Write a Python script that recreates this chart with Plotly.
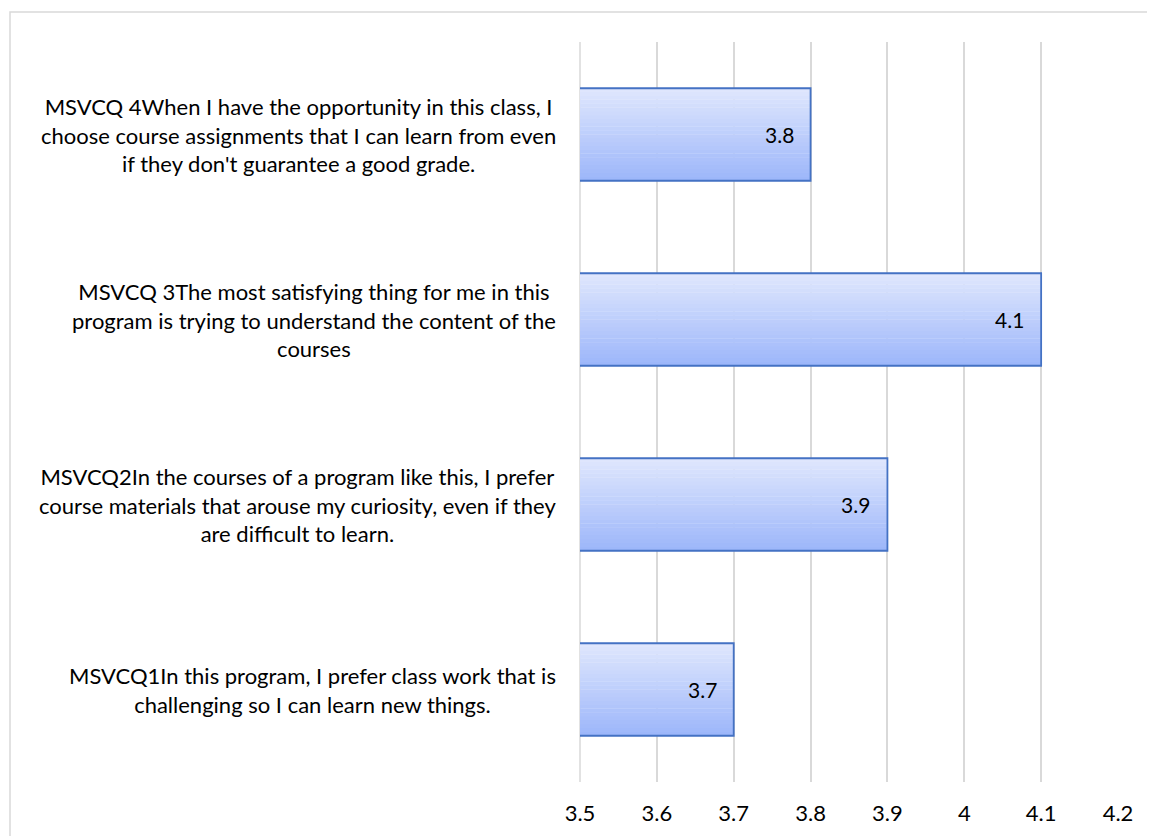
import plotly.graph_objects as go

categories = [
    "MSVCQ1In this program, I prefer class work that is<br>challenging so I can learn new things.",
    "MSVCQ2In the courses of a program like this, I prefer<br>course materials that arouse my curiosity, even if they<br>are difficult to learn.",
    "MSVCQ 3The most satisfying thing for me in this<br>program is trying to understand the content of the<br>courses",
    "MSVCQ 4When I have the opportunity in this class, I<br>choose course assignments that I can learn from even<br>if they don't guarantee a good grade.",
]
values = [3.7, 3.9, 4.1, 3.8]
tick_vals = [3.5, 3.6, 3.7, 3.8, 3.9, 4.0, 4.1, 4.2]
tick_text = ["3.5", "3.6", "3.7", "3.8", "3.9", "4", "4.1", "4.2"]

FONT = "Lato, 'Open Sans', sans-serif"
OFF = 8  # page body margin
W, H = 1155, 836
L, R, T, B = 580 - OFF, 1155 - (1118 - OFF), 42 - OFF, 836 - (782 - OFF)
pw = W - L - R
ph = H - T - B

ypos = list(range(len(categories)))
BAR_W = 0.5
N = 24
top_c = (0xe0, 0xe7, 0xfd)
bot_c = (0x9c, 0xb6, 0xfa)

fig = go.Figure()
# gradient fill drawn as thin overlaid bar stripes (bottom -> top)
for k in range(N):
    t = (k + 0.5) / N
    c = tuple(round(bot_c[j] + (top_c[j] - bot_c[j]) * t) for j in range(3))
    fig.add_trace(go.Bar(
        y=ypos, x=values, orientation="h",
        width=BAR_W / N + 0.002, offset=-BAR_W / 2 + k * BAR_W / N,
        marker=dict(color="rgb(%d,%d,%d)" % c, line=dict(width=0)),
        hoverinfo="skip",
    ))
# outline
fig.add_trace(go.Bar(
    y=ypos, x=values, orientation="h", width=BAR_W,
    marker=dict(color="rgba(0,0,0,0)", line=dict(color="#4472c4", width=1.8)),
    hoverinfo="x",
))

for i, v in enumerate(values):
    fig.add_annotation(x=v, y=i, xref="x", yref="y", text=f"{v:g}",
                       showarrow=False, xanchor="right", xshift=-15,
                       font=dict(size=21, color="#000000", family=FONT))
    fig.add_annotation(x=-(L - (558 - OFF)) / pw, y=i, xref="paper", yref="y",
                       text=categories[i], showarrow=False, xanchor="right",
                       align="center", font=dict(size=22, color="#000000", family=FONT))

# gridline at the left range edge (paper-referenced so it is not clipped)
fig.add_shape(type="line", xref="paper", yref="paper", x0=0, x1=0, y0=0, y1=1,
              line=dict(color="#d9d9d9", width=1.5), layer="below")

fig.add_shape(type="rect", xref="paper", yref="paper",
              x0=-(L - (10 - OFF)) / pw, x1=1 + (R + 20) / pw,
              y0=-(B + 20) / ph, y1=1 + (T - (12 - OFF)) / ph,
              line=dict(color="#d9d9d9", width=1.5), fillcolor="rgba(0,0,0,0)", layer="below")

fig.update_layout(
    width=W, height=H,
    margin=dict(l=L, r=R, t=T, b=B),
    paper_bgcolor="white", plot_bgcolor="rgba(0,0,0,0)",
    showlegend=False, barmode="overlay",
    font=dict(family=FONT, size=22, color="#000000"),
    xaxis=dict(range=[3.5, 4.2], tickvals=tick_vals, ticktext=tick_text,
               showgrid=True, gridcolor="#d9d9d9", gridwidth=1.5,
               zeroline=False, showline=False, ticks="", ticklabelstandoff=16,
               tickfont=dict(size=22, family=FONT, color="#000000")),
    yaxis=dict(range=[-0.5, 3.5], showticklabels=False, showgrid=False,
               zeroline=False, showline=False, ticks=""),
)

fig.write_html("out.html")
